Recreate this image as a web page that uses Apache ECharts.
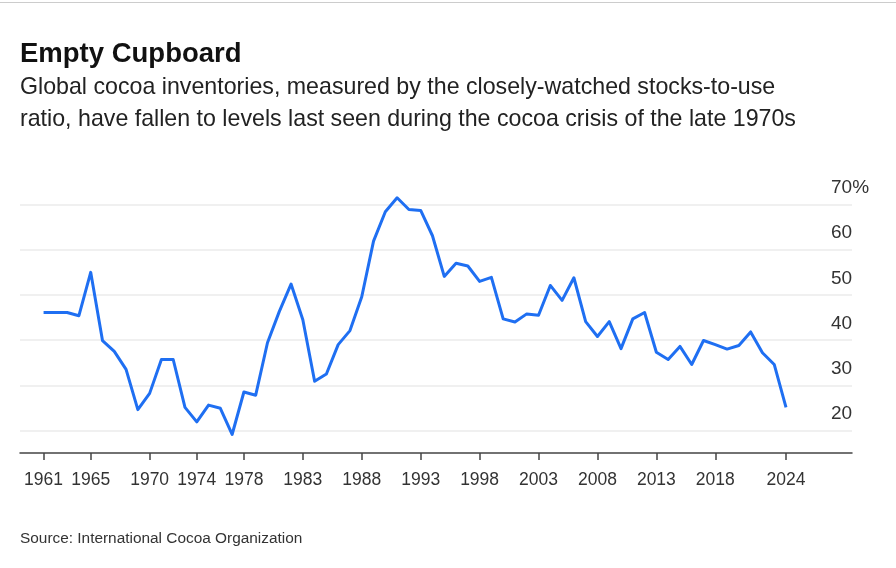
<!DOCTYPE html>
<html>
<head>
<meta charset="utf-8">
<script src="https://cdn.jsdelivr.net/npm/echarts@6/dist/echarts.min.js"></script>
<style>
html,body{margin:0;padding:0;background:#fff;}
#chart{width:896px;height:568px;}
</style>
</head>
<body>
<div id="chart"></div>
<script>
// Data
const years = [];
for (let y = 1961; y <= 2024; y++) years.push(y);
const stocksToUse = [
  46.1, 46.1, 46.1, 45.4, 55.0, 39.9, 37.5, 33.5, 24.6, 28.2,
  35.7, 35.7, 25.1, 21.9, 25.6, 24.9, 19.1, 28.5, 27.8, 39.4,
  46.3, 52.4, 44.5, 30.9, 32.5, 39.0, 42.1, 49.6, 61.9, 68.4,
  71.5, 68.9, 68.7, 63.1, 54.1, 57.0, 56.4, 53.0, 53.9, 44.7,
  44.0, 45.8, 45.5, 52.1, 48.8, 53.8, 44.1, 40.8, 44.1, 38.1,
  44.7, 46.1, 37.3, 35.7, 38.6, 34.6, 39.9, 39.0, 38.0, 38.8,
  41.8, 37.2, 34.6, 25.1
];
const xTickYears = [1961, 1965, 1970, 1974, 1978, 1983, 1988, 1993, 1998, 2003, 2008, 2013, 2018, 2024];
const yTickValues = [20, 30, 40, 50, 60, 70];

const titleText = 'Empty Cupboard';
const subtitleText = 'Global cocoa inventories, measured by the closely-watched stocks-to-use\nratio, have fallen to levels last seen during the cocoa crisis of the late 1970s';
const sourceText = 'Source: International Cocoa Organization';

const FONT = '"Liberation Sans", Arial, Helvetica, sans-serif';

const chart = echarts.init(document.getElementById('chart'), null, {renderer: 'canvas'});
chart.setOption({
  backgroundColor: '#fff',
  animation: false,
  textStyle: {fontFamily: FONT},
  title: [
    {
      text: titleText,
      left: 20, top: 40.5, padding: 0,
      textStyle: {fontFamily: FONT, fontSize: 27.5, fontWeight: 'bold', color: '#111'}
    },
    {
      text: subtitleText,
      left: 20, top: 72, padding: 0,
      textStyle: {fontFamily: FONT, fontSize: 23.2, fontWeight: 'normal', color: '#222', lineHeight: 31.5}
    },
    {
      text: sourceText,
      left: 20, top: 531, padding: 0,
      textStyle: {fontFamily: FONT, fontSize: 15.4, fontWeight: 'normal', color: '#333'}
    }
  ],
  graphic: [
    {type: 'line', shape: {x1: 0, y1: 2.5, x2: 896, y2: 2.5}, style: {stroke: '#cccccc', lineWidth: 1}}
  ],
  grid: {left: 20, right: 44, top: 182, bottom: 115},
  xAxis: {
    type: 'value',
    min: 1959,
    max: 2029.6,
    splitLine: {show: false},
    axisLine: {show: true, lineStyle: {color: '#444', width: 1.5}},
    axisTick: {show: true, customValues: xTickYears, length: 7, lineStyle: {color: '#444', width: 1.5}},
    axisLabel: {
      customValues: xTickYears,
      margin: 18,
      fontSize: 17.5,
      color: '#333',
      fontFamily: FONT,
      formatter: v => String(v)
    }
  },
  yAxis: {
    type: 'value',
    position: 'right',
    min: 15,
    max: 75,
    interval: 5,
    axisLine: {show: false},
    axisTick: {show: false},
    splitLine: {show: true, lineStyle: {color: ['rgba(0,0,0,0)', '#ebebeb'], width: 1.5}},
    axisLabel: {
      margin: -21,
      align: 'left',
      verticalAlign: 'bottom',
      padding: [0, 0, 7, 0],
      fontSize: 19,
      color: '#333',
      fontFamily: FONT,
      formatter: v => (yTickValues.indexOf(v) < 0 ? '' : (v === 70 ? v + '%' : String(v)))
    }
  },
  series: [{
    type: 'line',
    data: years.map((y, i) => [y, stocksToUse[i]]),
    showSymbol: false,
    symbol: 'none',
    lineStyle: {color: '#1f6ff2', width: 3, join: 'round'},
    itemStyle: {color: '#1f6ff2'}
  }]
});
</script>
</body>
</html>
